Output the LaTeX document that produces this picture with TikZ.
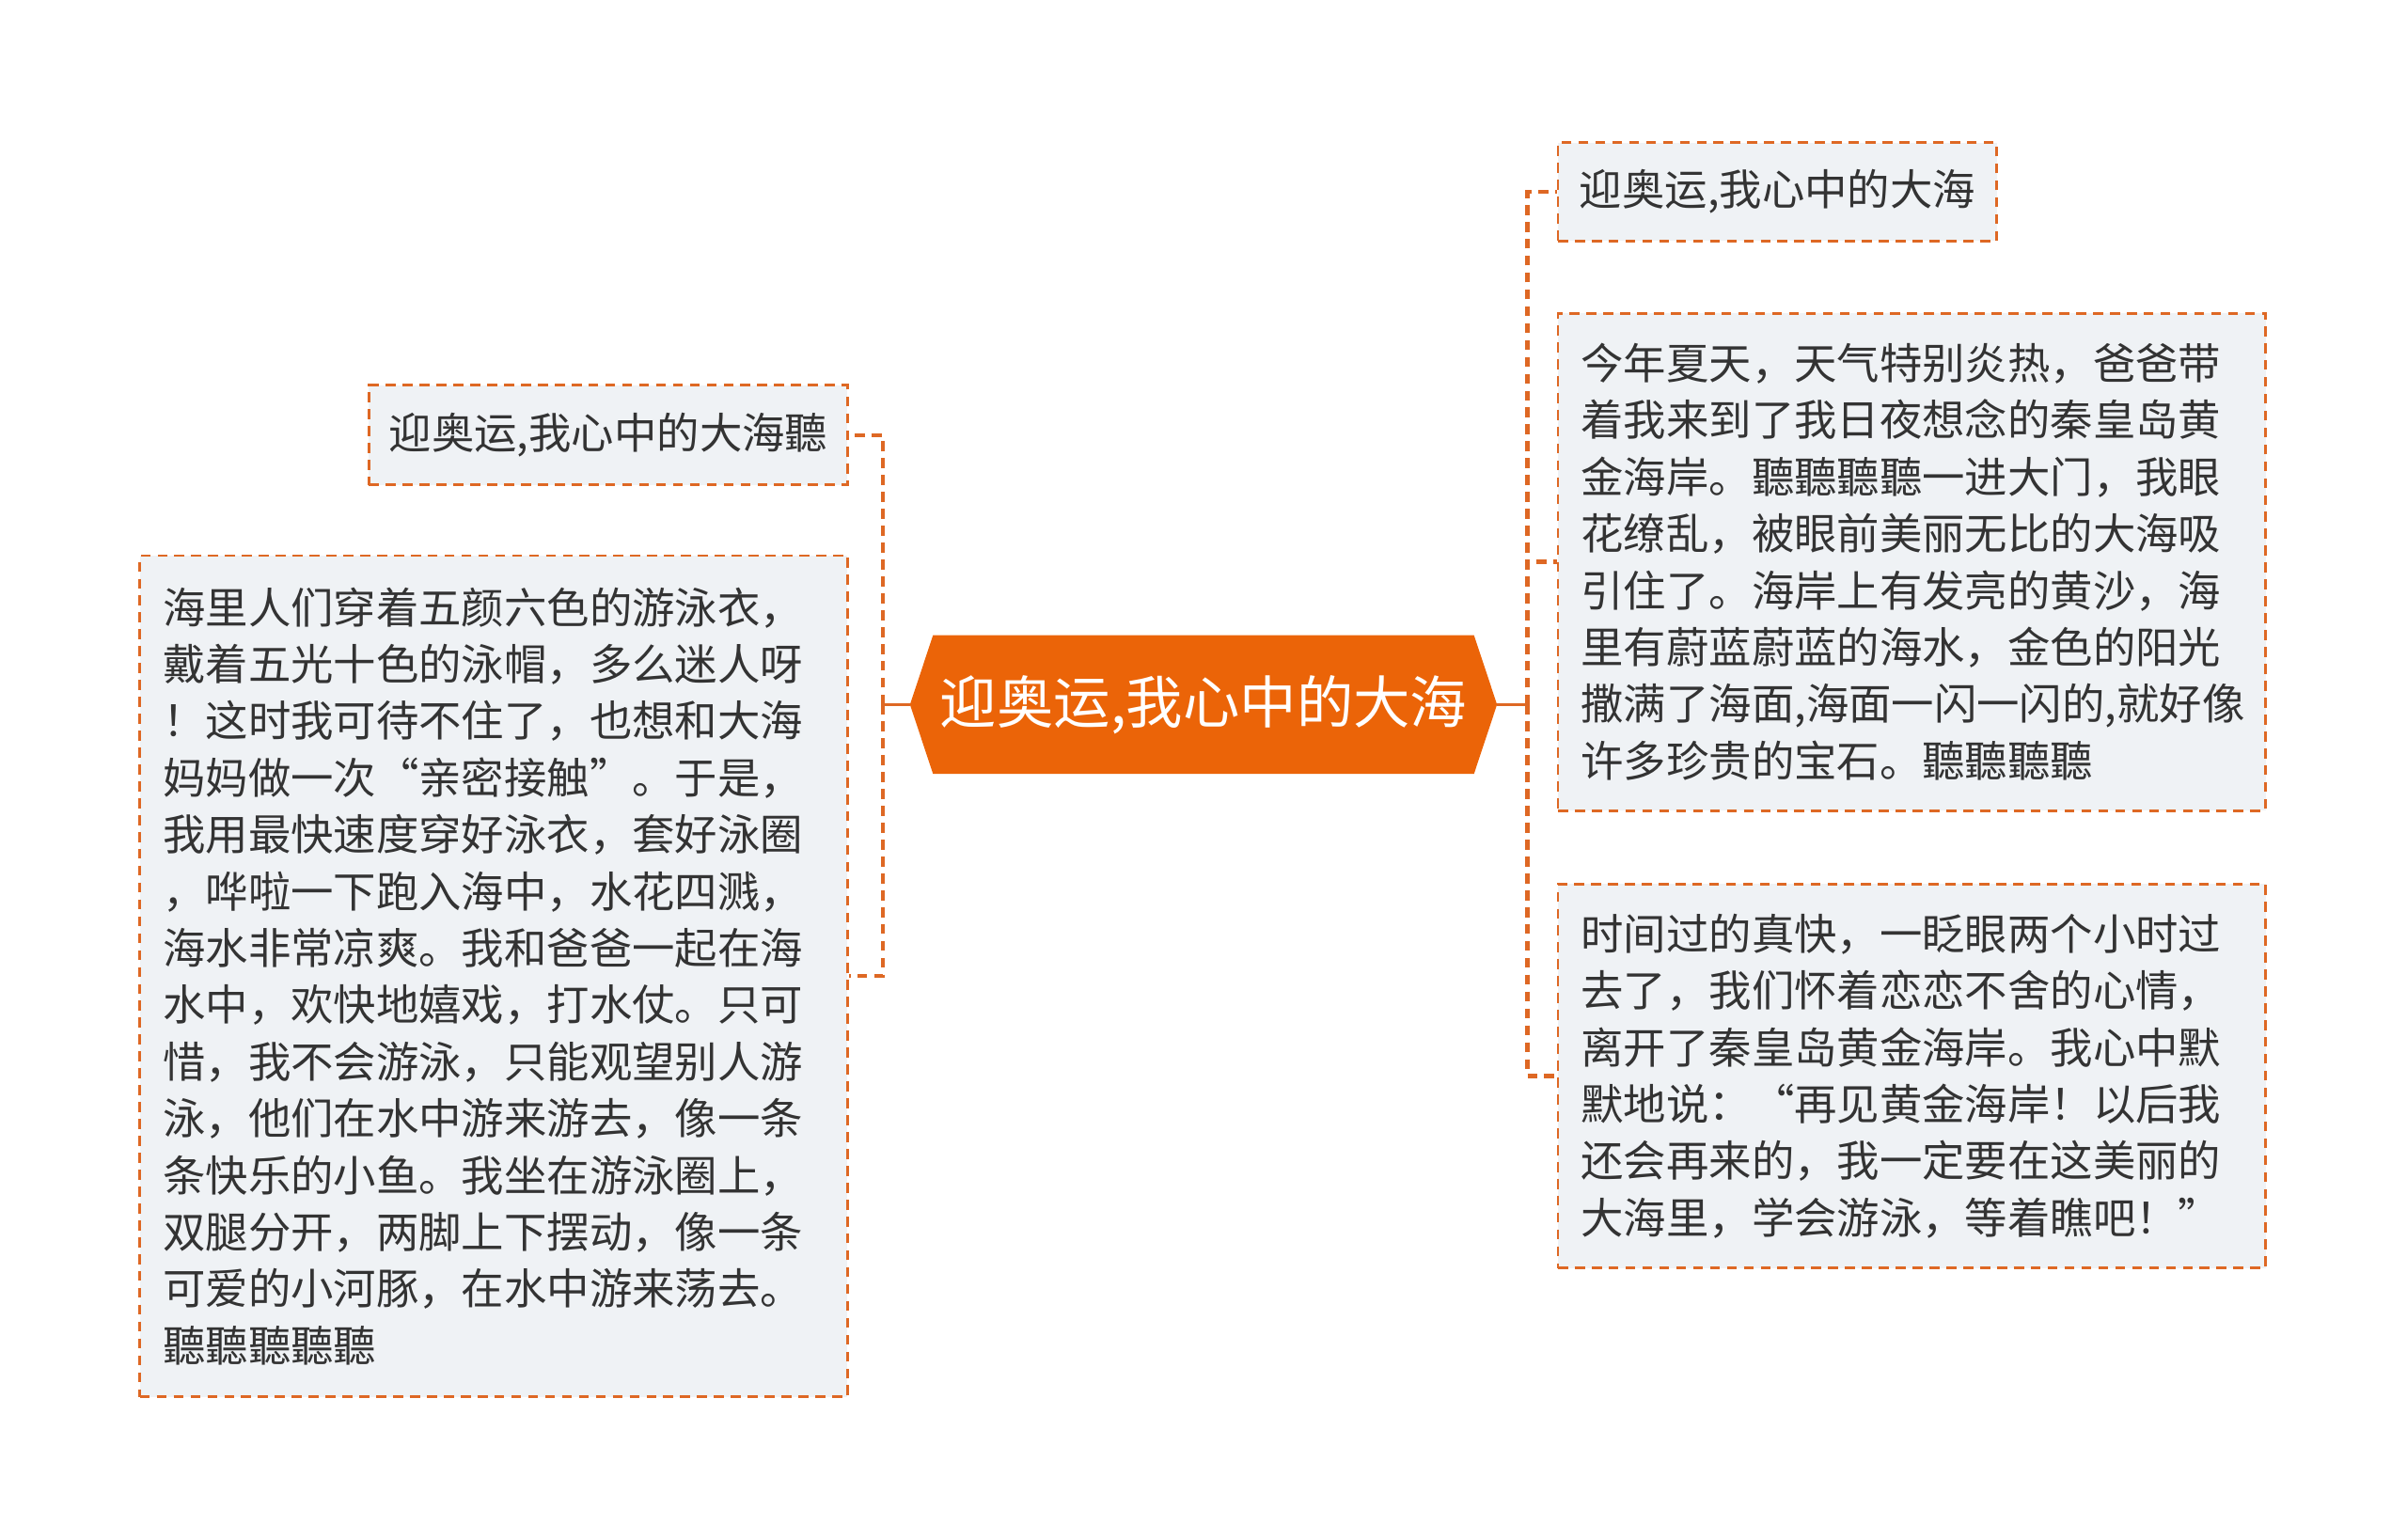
\documentclass[tikz,border=0pt]{standalone}
\usepackage{fontspec}
\setmainfont{Noto Sans CJK SC}
\usetikzlibrary{backgrounds}
\definecolor{hubOrange}{RGB}{235,100,8}
\definecolor{lineOrange}{RGB}{222,104,36}
\definecolor{boxFill}{RGB}{239,242,245}
\definecolor{inkGray}{RGB}{51,51,51}
\begin{document}
\begin{tikzpicture}[x=1pt,y=1pt,yscale=-1,xscale=1,
    hubbox/.style={inner sep=0pt, minimum width=352pt, minimum height=90pt,
      text=white, font=\fontsize{37}{40}\selectfont},
    leafbox/.style={draw=lineOrange, line width=1.8pt, dash pattern=on 6.5pt off 4.5pt,
      fill=boxFill, text=inkGray, inner xsep=15pt, inner ysep=0pt,
      font=\fontsize{27.8}{37}\selectfont},
    textbox/.style={leafbox, text width=431pt, align=left},
    hubline/.style={draw=lineOrange, line width=2pt},
    branch/.style={draw=lineOrange, line width=2.6pt, dash pattern=on 6.5pt off 4.5pt}]
  \useasboundingbox (0,0) rectangle (1568,1002.7);

  % Central node
  \node[hubbox] (hub) at (784,459) {迎奥运,我心中的大海};
  \begin{scope}[on background layer]
    \fill[hubOrange] (hub.north west) -- (hub.north east) -- ([xshift=15pt]hub.east)
      -- (hub.south east) -- (hub.south west) -- ([xshift=-15pt]hub.west) -- cycle;
  \end{scope}
  \coordinate (hubL) at ([xshift=-15pt]hub.west);
  \coordinate (hubR) at ([xshift=15pt]hub.east);
  \coordinate (lspine) at (575,459);
  \coordinate (rspine) at (995,459);

  % Left branches
  \node[leafbox, minimum height=65pt, inner xsep=13pt, anchor=east] (ltitle) at (553,283.5) {迎奥运,我心中的大海聽};
  \node[textbox, minimum height=548pt, anchor=east] (lstory) at (553,636) {海里人们穿着五颜六色的游泳衣，\\
戴着五光十色的泳帽，多么迷人呀\\
！这时我可待不住了，也想和大海\\
妈妈做一次“亲密接触”。于是，\\
我用最快速度穿好泳衣，套好泳圈\\
，哗啦一下跑入海中，水花四溅，\\
海水非常凉爽。我和爸爸一起在海\\
水中，欢快地嬉戏，打水仗。只可\\
惜，我不会游泳，只能观望别人游\\
泳，他们在水中游来游去，像一条\\
条快乐的小鱼。我坐在游泳圈上，\\
双腿分开，两脚上下摆动，像一条\\
可爱的小河豚，在水中游来荡去。\\
聽聽聽聽聽};

  % Right branches
  \node[leafbox, minimum height=64pt, inner xsep=14pt, anchor=west] (rtitle) at (1014,125) {迎奥运,我心中的大海};
  \node[textbox, minimum height=324pt, anchor=west] (rsummer) at (1014,366) {今年夏天，天气特别炎热，爸爸带\\
着我来到了我日夜想念的秦皇岛黄\\
金海岸。聽聽聽聽一进大门，我眼\\
花缭乱，被眼前美丽无比的大海吸\\
引住了。海岸上有发亮的黄沙，海\\
里有蔚蓝蔚蓝的海水，金色的阳光\\
撒满了海面,海面一闪一闪的,就好像\\
许多珍贵的宝石。聽聽聽聽};
  \node[textbox, minimum height=250pt, anchor=west] (rfarewell) at (1014,701) {时间过的真快，一眨眼两个小时过\\
去了，我们怀着恋恋不舍的心情，\\
离开了秦皇岛黄金海岸。我心中默\\
默地说：“再见黄金海岸！以后我\\
还会再来的，我一定要在这美丽的\\
大海里，学会游泳，等着瞧吧！”};

  % Connectors
  \draw[hubline] (hubL) -- (lspine);
  \draw[hubline] (hubR) -- (rspine);
  \draw[branch] (lspine) |- (ltitle.east);
  \draw[branch] (lspine) |- (lstory.east);
  \draw[branch] (rspine) |- (rtitle.west);
  \draw[branch] (rspine) |- (rsummer.west);
  \draw[branch] (rspine) |- (rfarewell.west);
\end{tikzpicture}
\end{document}
